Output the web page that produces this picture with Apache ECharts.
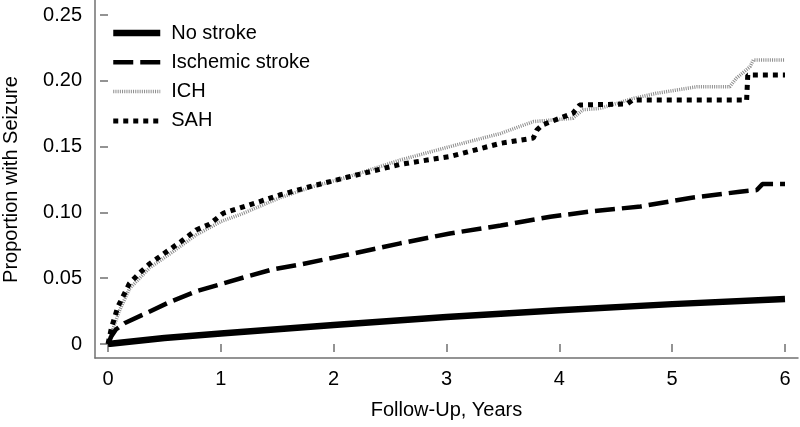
<!DOCTYPE html>
<html>
<head>
<meta charset="utf-8">
<script src="https://cdn.jsdelivr.net/npm/echarts@6/dist/echarts.min.js"></script>
<style>html,body{margin:0;padding:0;background:#fff;}#c{width:800px;height:427px;}</style>
</head>
<body>
<div id="c"></div>
<script>
// Follow-up years and cumulative proportions with seizure
const noStrokeT = [0, 0.5, 1, 2, 3, 4, 5, 6];
const noStrokeV = [0, 0.0045, 0.008, 0.0145, 0.0205, 0.0257, 0.0303, 0.0342];

const ischemicT = [0, 0.03, 0.07, 0.15, 0.34, 0.55, 0.78, 1.0, 1.22, 1.45, 1.68, 2.11, 2.59, 3.03, 3.48, 3.92, 4.27, 4.72, 5.16, 5.60, 5.75, 5.80, 6.0];
const ischemicV = [0, 0.006, 0.011, 0.016, 0.0235, 0.032, 0.040, 0.0455, 0.051, 0.0565, 0.060, 0.0676, 0.0765, 0.084, 0.090, 0.0967, 0.1006, 0.1045, 0.111, 0.1157, 0.117, 0.1215, 0.1215];

const ichT = [0, 0.03, 0.1, 0.19, 0.37, 0.54, 0.78, 1.0, 1.19, 1.52, 1.81, 2.11, 2.59, 3.03, 3.48, 3.77, 4.12, 4.21, 4.36, 4.66, 4.86, 5.22, 5.51, 5.57, 5.69, 5.72, 6.0];
const ichV = [0, 0.008, 0.025, 0.042, 0.058, 0.068, 0.0828, 0.093, 0.099, 0.111, 0.1195, 0.1265, 0.1398, 0.150, 0.160, 0.169, 0.1715, 0.178, 0.179, 0.1867, 0.1905, 0.1955, 0.1955, 0.202, 0.2107, 0.2158, 0.2158];

const sahT = [0, 0.03, 0.086, 0.19, 0.28, 0.37, 0.54, 0.65, 0.78, 0.9, 1.02, 1.25, 1.52, 1.81, 2.11, 2.59, 3.03, 3.48, 3.77, 3.80, 3.85, 4.12, 4.18, 4.60, 4.65, 5.66, 5.67, 6.0];
const sahV = [0, 0.012, 0.028, 0.046, 0.054, 0.061, 0.0714, 0.078, 0.0866, 0.091, 0.0993, 0.1056, 0.1132, 0.120, 0.1265, 0.1365, 0.1425, 0.1525, 0.1565, 0.1625, 0.1665, 0.1753, 0.1816, 0.1824, 0.1854, 0.1854, 0.2044, 0.2044];

const seriesNames = ['No stroke', 'Ischemic stroke', 'ICH', 'SAH'];
const xTickValues = [0, 1, 2, 3, 4, 5, 6];
const yTickValues = [0, 0.05, 0.10, 0.15, 0.20, 0.25];

const zip = (t, v) => t.map((x, i) => [x, v[i]]);
const FONT = 'Liberation Sans, Arial, Helvetica, sans-serif';
const AXIS_COLOR = '#707070';
const FS = 20;

const styles = {
  'No stroke':       {color: '#000',    width: 6.5, type: 'solid'},
  'Ischemic stroke': {color: '#000',    width: 4.5, type: [20, 7]},
  'ICH':             {color: '#8c8c8c', width: 3.5, type: [1, 1.2]},
  'SAH':             {color: '#000',    width: 5,   type: [5, 5]}
};
const seriesData = {
  'No stroke': zip(noStrokeT, noStrokeV),
  'Ischemic stroke': zip(ischemicT, ischemicV),
  'ICH': zip(ichT, ichV),
  'SAH': zip(sahT, sahV)
};

const chart = echarts.init(document.getElementById('c'), null, {renderer: 'canvas'});
chart.setOption({
  animation: false,
  backgroundColor: '#ffffff',
  textStyle: {fontFamily: FONT},
  grid: [
    {left: 108, right: 15, top: 15, bottom: 83, containLabel: false, outerBoundsMode: 'none'},
    {left: 95, right: 2, top: 0, bottom: 69, containLabel: false, outerBoundsMode: 'none'}
  ],
  legend: {
    orient: 'vertical',
    left: 110, top: 23, padding: 0,
    itemWidth: 47, itemHeight: 16, itemGap: 9.3,
    data: seriesNames.map(n => ({
      name: n,
      itemStyle: {color: 'rgba(0,0,0,0)', borderWidth: 0, opacity: 0},
      lineStyle: {color: styles[n].color, width: styles[n].width, type: styles[n].type}
    })),
    textStyle: {fontFamily: FONT, fontSize: FS, color: '#000', padding: [0, 0, 0, 6]}
  },
  xAxis: [
    {
      gridIndex: 0, type: 'value',
      min: xTickValues[0], max: xTickValues[xTickValues.length - 1], interval: 1,
      offset: 14,
      axisLine: {show: false},
      axisTick: {show: true, length: 8, lineStyle: {color: AXIS_COLOR, width: 1.5}},
      axisLabel: {fontSize: FS, color: '#000', margin: 11, fontFamily: FONT},
      splitLine: {show: false},
      name: 'Follow-Up, Years', nameLocation: 'middle', nameGap: 42,
      nameTextStyle: {fontSize: FS, color: '#000', fontFamily: FONT}
    },
    {
      gridIndex: 1, type: 'value', min: 0, max: 1,
      axisLine: {show: true, lineStyle: {color: AXIS_COLOR, width: 1.5}},
      axisTick: {show: false}, axisLabel: {show: false}, splitLine: {show: false}
    }
  ],
  yAxis: [
    {
      gridIndex: 0, type: 'value',
      min: yTickValues[0], max: yTickValues[yTickValues.length - 1], interval: 0.05,
      offset: 13,
      axisLine: {show: false},
      axisTick: {show: true, length: 8, lineStyle: {color: AXIS_COLOR, width: 1.5}},
      axisLabel: {fontSize: FS, color: '#000', margin: 13, fontFamily: FONT,
        formatter: v => (Math.abs(v) < 1e-9 ? '0' : v.toFixed(2))},
      splitLine: {show: false},
      name: 'Proportion with Seizure', nameLocation: 'middle', nameGap: 74,
      nameTextStyle: {fontSize: FS, color: '#000', fontFamily: FONT}
    },
    {
      gridIndex: 1, type: 'value', min: 0, max: 1,
      axisLine: {show: true, lineStyle: {color: AXIS_COLOR, width: 1.5}},
      axisTick: {show: false}, axisLabel: {show: false}, splitLine: {show: false}
    }
  ],
  series: seriesNames.map(n => ({
    name: n, type: 'line', xAxisIndex: 0, yAxisIndex: 0,
    data: seriesData[n], symbol: 'none',
    z: n === 'ICH' ? 1 : 2,
    lineStyle: {color: styles[n].color, width: styles[n].width, type: styles[n].type},
    itemStyle: {color: styles[n].color}
  }))
});
</script>
</body>
</html>
